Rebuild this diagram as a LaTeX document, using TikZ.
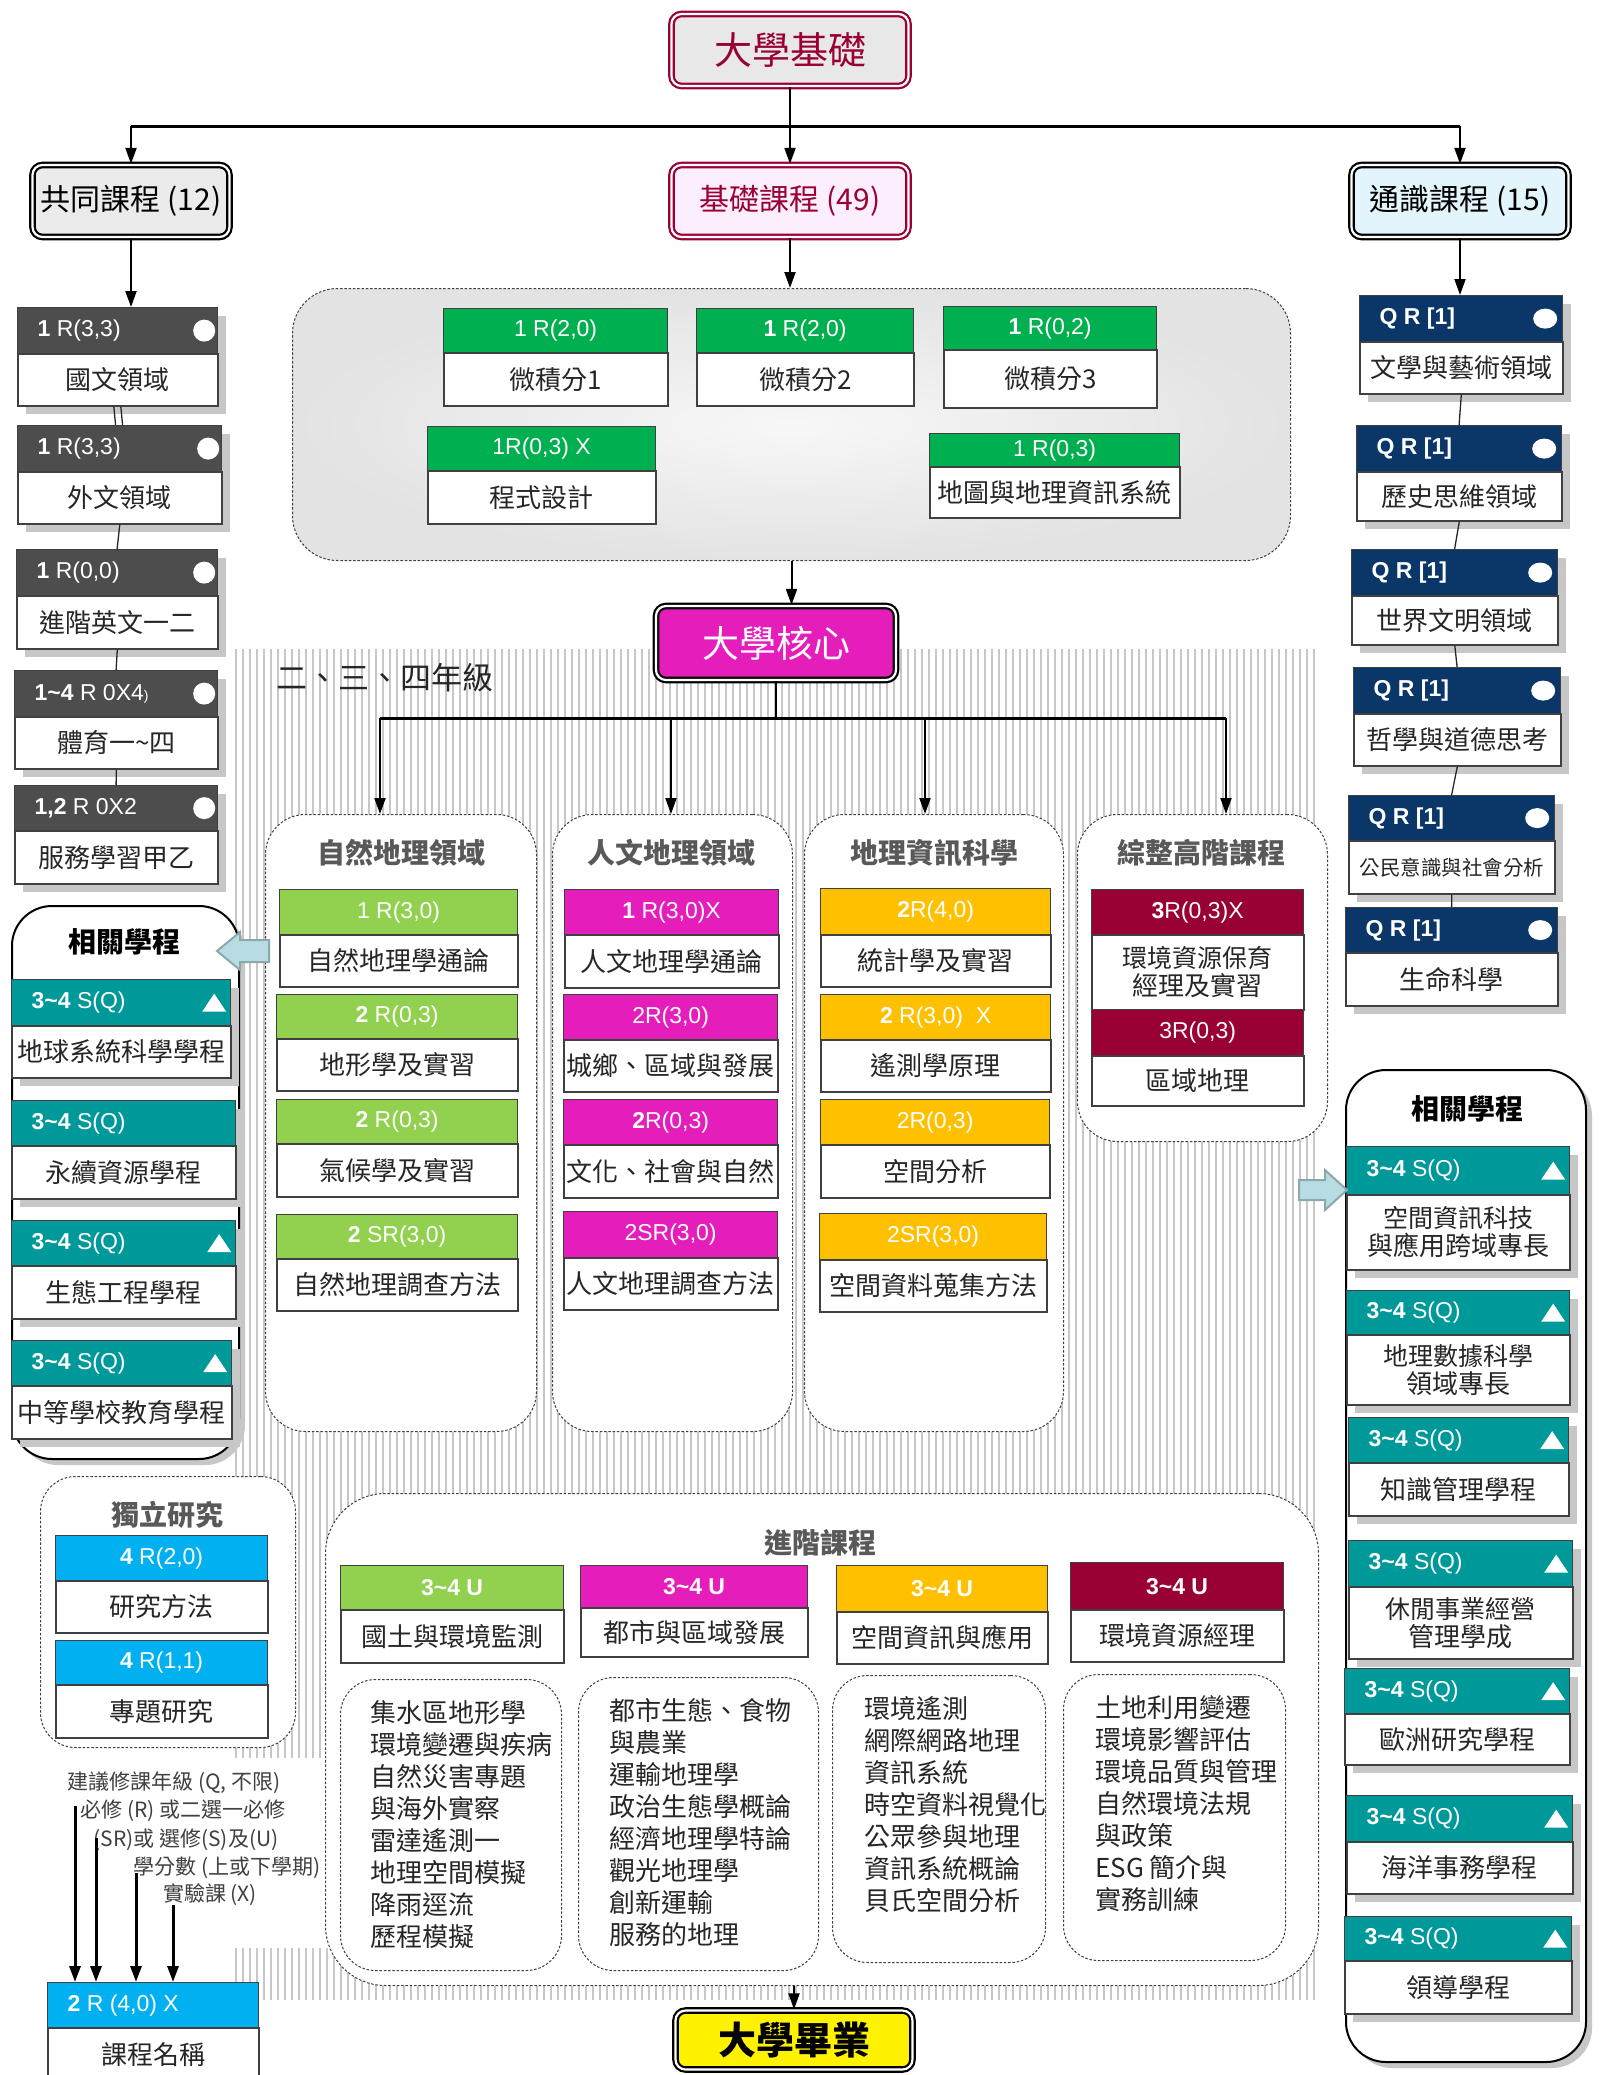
\documentclass[tikz,border=0pt]{standalone}
\usepackage{fontspec}
\setmainfont{Noto Sans CJK TC}
\newfontfamily\lat{Liberation Sans}
\usetikzlibrary{arrows.meta}
\definecolor{crim}{HTML}{990033}
\definecolor{grayE}{HTML}{E8E8E8}
\definecolor{pinkf}{HTML}{FCEEFC}
\definecolor{bluef}{HTML}{E2F4FC}
\definecolor{mag}{HTML}{E51EBB}
\definecolor{grn}{HTML}{00B050}
\definecolor{lgrn}{HTML}{92D050}
\definecolor{gold}{HTML}{FFC000}
\definecolor{navy}{HTML}{0A3668}
\definecolor{teal}{HTML}{009999}
\definecolor{cyanb}{HTML}{00B0F0}
\definecolor{dkg}{HTML}{4D4D4D}
\definecolor{arrfill}{HTML}{B7DDE3}
\definecolor{arrdraw}{HTML}{8CA8AD}
\newcommand\tld{\textasciitilde}
\newcommand\cbox[9]{%
  \node[hdr, fill=#7, minimum width={#4-#2}, minimum height={#5-#3}] (#1h) at (#2,#3) {#8};
  \node[bdy, minimum width={#4-#2}, minimum height={#6-#5}] (#1b) at (#2,#5) {#9};}
\newcommand\cboxl[9]{%
  \node[hdr, fill=#7, minimum width={#4-#2}, minimum height={#5-#3}] (#1h) at (#2,#3) {\makebox[\dimexpr#4pt-#2pt\relax][l]{\hspace*{20pt}#8}};
  \node[bdy, minimum width={#4-#2}, minimum height={#6-#5}] (#1b) at (#2,#5) {#9};}
\newcommand\shbox[4]{\fill[shd] (#1+9,#2+9) rectangle (#3+9,#4+9);}
\newcommand\wdot[1]{\fill[white] ([xshift=-14pt]#1.east) circle (11pt);}
\newcommand\well[1]{\fill[white] ([xshift=-18pt]#1.east) ellipse (12pt and 10pt);}
\newcommand\wtri[1]{\fill[white] ([xshift=-17pt]#1.east) ++(-12pt,-9pt) -- ++(24pt,0pt) -- ++(-12pt,18pt) -- cycle;}
\tikzset{
 hdr/.style={draw=black!75, line width=1.2pt, inner sep=0pt, text=white, anchor=north west, font=\lat\fontsize{23}{23}\selectfont},
 bdy/.style={draw=black!75, line width=1.6pt, fill=white, inner sep=0pt, text=black!85, anchor=north west, align=center, font=\fontsize{26}{28}\selectfont},
 shd/.style={fill=black!22},
 conn/.style={line width=1.3pt, draw=black!85},
 arr/.style={line width=2pt, -{Triangle[length=16pt,width=11pt]}},
 dpanel/.style={draw=black!75, line width=1pt, dash pattern=on 2.5pt off 1.8pt, rounded corners=40pt, fill=white, inner sep=0pt, anchor=north west},
 ptitle/.style={font=\fontsize{28}{28}\selectfont\bfseries, text=black!65, inner sep=0pt},
 topbox/.style={rounded corners=10pt, line width=2.2pt, double distance=2.2pt, inner sep=0pt, double=white},
 stripe/.style={line width=2.6pt, draw=black!22},
 barrow/.style={fill=arrfill, draw=arrdraw, line width=2pt, line join=miter},
 listtxt/.style={anchor=north west, align=left, inner sep=0pt, font=\fontsize{26}{32}\selectfont, text=black!85},
 legtxt/.style={inner sep=0pt, font=\fontsize{21}{21}\selectfont, text=black!75},
 rpanel/.style={draw=black, line width=2pt, rounded corners=40pt, fill=white, inner sep=0pt, anchor=north west},
}
\begin{document}
\begin{tikzpicture}[x=1pt,y=-1pt]
\useasboundingbox (0,0) rectangle (1606,2075);
\fill[white] (0,0) rectangle (1606,2075);
% striped background
\foreach \x in {236,243,...,1318} \draw[stripe] (\x,649) -- (\x,2000);
\fill[white] (235,1758) rectangle (328,1948);

% ---------- top ----------
\node[topbox, draw=crim, fill=grayE, text=crim, minimum width=237, minimum height=72, font=\fontsize{38}{38}\selectfont] (daxue) at (790,50) {大學基礎};
\node[topbox, draw=black, fill=black!8, text=black, minimum width=197, minimum height=72, font=\fontsize{30}{30}\selectfont] (gongtong) at (131,201) {共同課程 (12)};
\node[topbox, draw=crim, fill=pinkf, text=crim, minimum width=237, minimum height=72, font=\fontsize{30}{30}\selectfont] (jichu) at (790,201) {基礎課程 (49)};
\node[topbox, draw=black, fill=bluef, text=black, minimum width=217, minimum height=72, font=\fontsize{30}{30}\selectfont] (tongshi) at (1460,201) {通識課程 (15)};
\coordinate (t0) at (790,126);
\coordinate (tl) at (131,126);
\coordinate (tr) at (1460,126);
\draw[line width=2pt] (daxue.south) -- (t0);
\draw[line width=3pt] (tl) -- (tr);
\draw[arr] (tl) -- (gongtong.north);
\draw[arr] (t0) -- (jichu.north);
\draw[arr] (tr) -- (tongshi.north);

% ---------- left column: 共同 ----------
\shbox{17}{307}{217}{405}
\cboxl{k1}{17}{307}{217}{353}{405}{dkg}{\textbf{1} R(3,3)}{國文領域}
\shbox{17}{425}{221}{523}
\cboxl{k2}{17}{425}{221}{471}{523}{dkg}{\textbf{1} R(3,3)}{外文領域}
\shbox{16}{549}{217}{648}
\cboxl{k3}{16}{549}{217}{595}{648}{dkg}{\textbf{1} R(0,0)}{進階英文一二}
\shbox{14}{670}{217}{768}
\cboxl{k4}{14}{670}{217}{716}{768}{dkg}{\textbf{1\tld4} R 0X4{\fontsize{14}{14}\selectfont)}}{體育一\tld 四}
\shbox{14}{785}{217}{883}
\cboxl{k5}{14}{785}{217}{830}{883}{dkg}{\textbf{1,2} R 0X2}{服務學習甲乙}
\wdot{k1h}\wdot{k2h}\wdot{k3h}\wdot{k4h}\wdot{k5h}
\draw[arr] (gongtong.south) -- (gongtong.south |- k1h.north);
\draw[conn] ([xshift=-4pt]k1b.south) -- ([xshift=-4pt]k2h.north);
\draw[conn] ([xshift=3pt]k1b.south) -- ([xshift=3pt]k2h.north);
\draw[conn] (k2b.south) -- (k3h.north);
\draw[conn] (k3b.south) -- (k4h.north);
\draw[conn] (k4b.south) -- (k5h.north);

% ---------- right column: 通識 ----------
\shbox{1359}{295}{1562}{393}
\cboxl{q1}{1359}{295}{1562}{341}{393}{navy}{\textbf{Q R [1]}}{文學與藝術領域}
\shbox{1356}{425}{1561}{520}
\cboxl{q2}{1356}{425}{1561}{471}{520}{navy}{\textbf{Q R [1]}}{歷史思維領域}
\shbox{1351}{549}{1557}{644}
\cboxl{q3}{1351}{549}{1557}{595}{644}{navy}{\textbf{Q R [1]}}{世界文明領域}
\shbox{1353}{667}{1560}{765}
\cboxl{q4}{1353}{667}{1560}{713}{765}{navy}{\textbf{Q R [1]}}{哲學與道德思考}
\shbox{1348}{795}{1554}{893}
\cboxl{q5}{1348}{795}{1554}{840}{893}{navy}{\textbf{Q R [1]}}{\fontsize{20.5}{22}\selectfont 公民意識與社會分析}
\shbox{1345}{907}{1557}{1005}
\cboxl{q6}{1345}{907}{1557}{952}{1005}{navy}{\textbf{Q R [1]}}{生命科學}
\well{q1h}\well{q2h}\well{q3h}\well{q4h}\well{q5h}\well{q6h}
\draw[arr] (tongshi.south) -- (tongshi.south |- q1h.north);
\draw[conn] (q1b.south) -- (q2h.north);
\draw[conn] (q2b.south) -- (q3h.north);
\draw[conn] (q3b.south) -- (q4h.north);
\draw[conn] (q4b.south) -- (q5h.north);
\draw[conn] (q5b.south) -- (q6h.north);

% ---------- 基礎 region ----------
\node[draw=black!75, line width=1pt, dash pattern=on 2.5pt off 1.8pt, rounded corners=45pt, inner color=white!97!black, outer color=black!11, inner sep=0pt, anchor=north west, minimum width=998, minimum height=272] (basereg) at (292,288) {};
\cbox{b1}{443}{308}{667}{352}{405}{grn}{1 R(2,0)}{微積分1}
\cbox{b2}{696}{308}{913}{352}{405}{grn}{\textbf{1} R(2,0)}{微積分2}
\cbox{b3}{943}{306}{1156}{349}{407}{grn}{\textbf{1} R(0,2)}{微積分3}
\cbox{b4}{427}{426}{655}{470}{523}{grn}{1R(0,3) X}{程式設計}
\cbox{b5}{929}{433}{1179}{466}{517}{grn}{1 R(0,3)}{地圖與地理資訊系統}
\draw[arr] (jichu.south) -- (jichu.south |- basereg.north);

% ---------- core ----------
\node[topbox, draw=black, fill=mag, text=white, minimum width=240, minimum height=74, font=\fontsize{37}{37}\selectfont] (core) at (776,643) {大學核心};
\draw[arr] (basereg.south) -- (basereg.south |- core.north);
\node[inner sep=0pt, font=\fontsize{31}{31}\selectfont, text=black!85] (grade) at (385,678) {二、三、四年級};

% domain panels
\node[dpanel, minimum width=271, minimum height=617] (p1) at (265,814) {};
\node[dpanel, minimum width=240, minimum height=617] (p2) at (552,814) {};
\node[dpanel, minimum width=259, minimum height=617] (p3) at (804,814) {};
\node[dpanel, minimum width=250, minimum height=327] (p4) at (1077,814) {};
\node[ptitle] (p1t) at (401,853) {自然地理領域};
\node[ptitle] (p2t) at (671,853) {人文地理領域};
\node[ptitle] (p3t) at (934,853) {地理資訊科學};
\node[ptitle] (p4t) at (1201,853) {綜整高階課程};

\coordinate (cb) at (776,718);
\coordinate (c1) at (380,718);
\coordinate (c2) at (671,718);
\coordinate (c3) at (925,718);
\coordinate (c4) at (1226,718);
\draw[line width=2pt] (core.south) -- (cb);
\draw[line width=3pt] (c1) -- (c4);
\draw[arr] (c1) -- (c1 |- p1.north);
\draw[arr] (c2) -- (c2 |- p2.north);
\draw[arr] (c3) -- (c3 |- p3.north);
\draw[arr] (c4) -- (c4 |- p4.north);

\cbox{n1}{279}{889}{517}{934}{986}{lgrn}{1 R(3,0)}{自然地理學通論}
\cbox{n2}{276}{994}{517}{1038}{1090}{lgrn}{\textbf{2} R(0,3)}{地形學及實習}
\cbox{n3}{276}{1099}{517}{1143}{1196}{lgrn}{\textbf{2} R(0,3)}{氣候學及實習}
\cbox{n4}{276}{1214}{517}{1258}{1310}{lgrn}{\textbf{2} SR(3,0)}{自然地理調查方法}
\cbox{h1}{564}{889}{778}{934}{987}{mag}{\textbf{1} R(3,0)X}{人文地理學通論}
\cbox{h2}{563}{994}{777}{1039}{1091}{mag}{2R(3,0)}{城鄉、區域與發展}
\cbox{h3}{563}{1099}{777}{1144}{1197}{mag}{\textbf{2}R(0,3)}{文化、社會與自然}
\cbox{h4}{563}{1211}{777}{1257}{1309}{mag}{2SR(3,0)}{人文地理調查方法}
\cbox{g1}{820}{888}{1050}{934}{986}{gold}{\textbf{2}R(4,0)}{統計學及實習}
\cbox{g2}{820}{994}{1050}{1039}{1091}{gold}{\textbf{2} R(3,0)\ \ X}{遙測學原理}
\cbox{g3}{820}{1099}{1049}{1144}{1197}{gold}{2R(0,3)}{空間分析}
\cbox{g4}{819}{1213}{1046}{1259}{1311}{gold}{2SR(3,0)}{空間資料蒐集方法}
\cbox{z1}{1091}{889}{1303}{934}{1009}{crim}{\textbf{3}R(0,3)X}{\fontsize{25}{27}\selectfont 環境資源保育\\經理及實習}
\cbox{z2}{1091}{1009}{1303}{1055}{1105}{crim}{3R(0,3)}{區域地理}

% ---------- left 相關學程 ----------
\fill[shd, rounded corners=40pt] (18,912) rectangle (245,1465);
\node[rpanel, minimum width=227, minimum height=553] (lrel) at (11,905) {};
\node[ptitle, text=black] (lrelt) at (124,942) {相關學程};
\shbox{11}{979}{230}{1077}
\cboxl{r1}{11}{979}{230}{1025}{1077}{teal}{\textbf{3\tld4} S(Q)}{地球系統科學學程}
\shbox{11}{1100}{235}{1198}
\cboxl{r2}{11}{1100}{235}{1145}{1198}{teal}{\textbf{3\tld4} S(Q)}{永續資源學程}
\shbox{11}{1220}{235}{1318}
\cboxl{r3}{11}{1220}{235}{1265}{1318}{teal}{\textbf{3\tld4} S(Q)}{生態工程學程}
\shbox{11}{1340}{231}{1438}
\cboxl{r4}{11}{1340}{231}{1385}{1438}{teal}{\textbf{3\tld4} S(Q)}{中等學校教育學程}
\wtri{r1h}\wtri{r3h}\wtri{r4h}
\draw[barrow] (269,940) -- (240,940) -- (240,932) -- (217,951) -- (240,970) -- (240,962) -- (269,962) -- cycle;

% ---------- right 相關學程 ----------
\fill[shd, rounded corners=40pt] (1352,1076) rectangle (1592,2068);
\node[rpanel, minimum width=240, minimum height=992] (rrel) at (1345,1069) {};
\node[ptitle, text=black] (rrelt) at (1467,1109) {相關學程};
\shbox{1346}{1146}{1569}{1269}
\cboxl{s1}{1346}{1146}{1569}{1194}{1269}{teal}{\textbf{3\tld4} S(Q)}{\fontsize{25}{27}\selectfont 空間資訊科技\\與應用跨域專長}
\shbox{1346}{1290}{1569}{1404}
\cboxl{s2}{1346}{1290}{1569}{1334}{1404}{teal}{\textbf{3\tld4} S(Q)}{\fontsize{25}{26}\selectfont 地理數據科學\\領域專長}
\shbox{1348}{1417}{1568}{1515}
\cboxl{s3}{1348}{1417}{1568}{1462}{1515}{teal}{\textbf{3\tld4} S(Q)}{知識管理學程}
\shbox{1348}{1540}{1572}{1658}
\cboxl{s4}{1348}{1540}{1572}{1586}{1658}{teal}{\textbf{3\tld4} S(Q)}{\fontsize{25}{26}\selectfont 休閒事業經營\\管理學成}
\shbox{1344}{1668}{1569}{1764}
\cboxl{s5}{1344}{1668}{1569}{1713}{1764}{teal}{\textbf{3\tld4} S(Q)}{歐洲研究學程}
\shbox{1346}{1795}{1572}{1893}
\cboxl{s6}{1346}{1795}{1572}{1841}{1893}{teal}{\textbf{3\tld4} S(Q)}{海洋事務學程}
\shbox{1344}{1916}{1571}{2013}
\cboxl{s7}{1344}{1916}{1571}{1960}{2013}{teal}{\textbf{3\tld4} S(Q)}{領導學程}
\wtri{s1h}\wtri{s2h}\wtri{s3h}\wtri{s4h}\wtri{s5h}\wtri{s6h}\wtri{s7h}
\draw[barrow] (1299,1180) -- (1325,1180) -- (1325,1170) -- (1347,1190) -- (1325,1210) -- (1325,1200) -- (1299,1200) -- cycle;

% ---------- 獨立研究 ----------
\node[dpanel, rounded corners=35pt, minimum width=255, minimum height=271] (indep) at (40,1476) {};
\node[ptitle] (indept) at (167,1515) {獨立研究};
\cbox{i1}{55}{1535}{267}{1580}{1632}{cyanb}{\textbf{4} R(2,0)}{研究方法}
\cbox{i2}{55}{1640}{267}{1684}{1737}{cyanb}{\textbf{4} R(1,1)}{專題研究}

% ---------- 進階課程 ----------
\node[dpanel, rounded corners=60pt, minimum width=993, minimum height=492] (adv) at (325,1493) {};
\node[ptitle] (advt) at (820,1543) {進階課程};
\cbox{a1}{340}{1565}{563}{1609}{1662}{lgrn}{\textbf{3\tld4 U}}{國土與環境監測}
\cbox{a2}{580}{1565}{807}{1607}{1656}{mag}{\textbf{3\tld4 U}}{都市與區域發展}
\cbox{a3}{836}{1565}{1047}{1611}{1663}{gold}{\textbf{3\tld4 U}}{空間資訊與應用}
\cbox{a4}{1070}{1562}{1283}{1609}{1661}{crim}{\textbf{3\tld4 U}}{環境資源經理}
\node[dpanel, rounded corners=35pt, minimum width=221, minimum height=291] (L1) at (340,1679) {};
\node[dpanel, rounded corners=35pt, minimum width=240, minimum height=293] (L2) at (578,1677) {};
\node[dpanel, rounded corners=35pt, minimum width=213, minimum height=287] (L3) at (832,1675) {};
\node[dpanel, rounded corners=35pt, minimum width=222, minimum height=286] (L4) at (1063,1674) {};
\node[listtxt] (L1t) at (370,1700) {集水區地形學\\環境變遷與疾病\\自然災害專題\\與海外實察\\雷達遙測一\\地理空間模擬\\降雨逕流\\歷程模擬};
\node[listtxt] (L2t) at (609,1698) {都市生態、食物\\與農業\\運輸地理學\\政治生態學概論\\經濟地理學特論\\觀光地理學\\創新運輸\\服務的地理};
\node[listtxt] (L3t) at (864,1696) {環境遙測\\網際網路地理\\資訊系統\\時空資料視覺化\\公眾參與地理\\資訊系統概論\\貝氏空間分析};
\node[listtxt] (L4t) at (1095,1695) {土地利用變遷\\環境影響評估\\環境品質與管理\\自然環境法規\\與政策\\ESG 簡介與\\實務訓練};

% ---------- graduation ----------
\node[topbox, draw=black, fill=yellow, text=black, minimum width=237, minimum height=59, font=\fontsize{38}{38}\selectfont\bfseries] (grad) at (794,2040) {大學畢業};
\draw[arr] (grad.north |- adv.south) -- (grad.north);

% ---------- legend ----------
\node[legtxt] (lg1) at (174,1783) {建議修課年級 (Q, 不限)};
\node[legtxt] (lg2) at (183,1811) {必修 (R) 或二選一必修};
\node[legtxt] (lg3) at (186,1840) {(SR)或 選修(S)及(U)};
\node[legtxt] (lg4) at (227,1868) {學分數 (上或下學期)};
\node[legtxt] (lg5) at (210,1895) {實驗課 (X)};
\cboxl{lgd}{47}{1982}{258}{2027}{2080}{cyanb}{\textbf{2} R (4,0) X}{課程名稱}
\coordinate (la1) at (75,1806);
\coordinate (la2) at (96,1838);
\coordinate (la3) at (136,1873);
\coordinate (la4) at (173,1905);
\draw[arr, line width=3pt] (la1) -- (la1 |- lgdh.north);
\draw[arr, line width=3pt] (la2) -- (la2 |- lgdh.north);
\draw[arr, line width=3pt] (la3) -- (la3 |- lgdh.north);
\draw[arr, line width=3pt] (la4) -- (la4 |- lgdh.north);
\end{tikzpicture}
\end{document}
